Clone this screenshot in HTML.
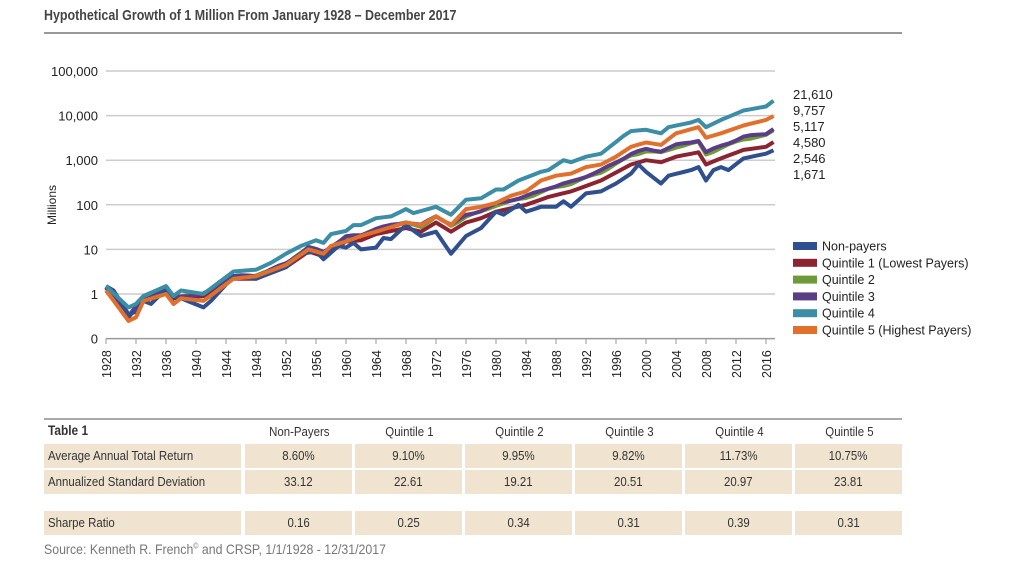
<!DOCTYPE html>
<html><head><meta charset="utf-8"><style>
body{margin:0;width:1024px;height:568px;background:#fff;font-family:"Liberation Sans",sans-serif;position:relative;overflow:hidden}
.t{position:absolute;white-space:nowrap}
.cell{position:absolute;height:24px;line-height:24px;font-size:13px;color:#333;text-align:center;background:#f0e4d0}
.n{display:inline-block;transform:scaleX(0.88)}
.nl{display:inline-block;transform:scaleX(0.88);transform-origin:left center}
</style></head><body>
<div class="t" style="left:44px;top:7px;font-size:15px;font-weight:bold;color:#444;transform:scaleX(0.83);transform-origin:left center">Hypothetical Growth of 1 Million From January 1928 – December 2017</div>
<div style="position:absolute;left:44px;top:32px;width:858px;height:2px;background:#999"></div>
<svg id="c" width="1024" height="410" style="position:absolute;left:0;top:0" font-family="Liberation Sans, sans-serif"></svg>
<div style="position:absolute;left:44px;top:418px;width:858px;height:2px;background:#aaa"></div>
<div id="tb"></div>
<div class="t" style="left:44px;top:541px;font-size:14px;color:#777;transform:scaleX(0.88);transform-origin:left center">Source: Kenneth R. French<sup style="font-size:8px">©</sup> and CRSP, 1/1/1928 - 12/31/2017</div>
<script>
const svg=document.getElementById('c');let h='';
const X=y=>106+(y-1928)*7.5, Y=v=>294-44.6*Math.log10(v);
const grid=[[100000,'100,000'],[10000,'10,000'],[1000,'1,000'],[100,'100'],[10,'10'],[1,'1'],[0.1,'0']];
grid.forEach(([v,l])=>{const y=Y(v);h+=`<line x1="106" x2="775" y1="${y}" y2="${y}" stroke="${v==0.1?'#999':'#ccc'}" stroke-width="1.5"/><text x="98" y="${y+5}" text-anchor="end" font-size="13" fill="#222">${l}</text>`});
h+=`<text transform="translate(56,205) rotate(-90)" text-anchor="middle" font-size="12" fill="#222">Millions</text>`;
for(let y=1928;y<=2016;y+=4){const x=X(y);h+=`<line x1="${x}" x2="${x}" y1="339" y2="344" stroke="#999"/><text transform="translate(${x+5},378) rotate(-90)" font-size="12.5" fill="#222">${y}</text>`}
function interp(p){const ks=Object.keys(p).map(Number).sort((a,b)=>a-b);const out=[];for(let y=1928;y<=2017;y++){let i=0;while(i<ks.length-1&&ks[i+1]<y)i++;const a=ks[i],b=ks[Math.min(i+1,ks.length-1)];let v;if(y<=a)v=p[a];else{const t=(y-a)/(b-a);v=Math.pow(10,Math.log10(p[a])*(1-t)+Math.log10(p[b])*t)}out.push(v)}return out}
const np=interp({1928:1.5,1929:1.2,1931:0.35,1932:0.4,1933:0.7,1934:0.6,1936:1.3,1937:0.6,1938:0.8,1941:0.5,1942:0.7,1945:2.5,1948:2.2,1952:4,1954:8,1956:9,1957:6,1959:12,1960:11,1961:14,1962:10,1964:11,1965:18,1966:17,1968:35,1970:20,1972:25,1974:8,1976:20,1978:30,1980:70,1981:60,1983:100,1984:70,1986:90,1988:90,1989:120,1990:90,1992:180,1994:200,1996:300,1998:500,1999:800,2000:550,2002:300,2003:450,2006:600,2007:700,2008:350,2009:600,2010:700,2011:600,2013:1100,2016:1400,2017:1671});
const q4=interp({1928:1.5,1931:0.5,1932:0.6,1933:0.9,1936:1.5,1937:0.9,1938:1.2,1941:1.0,1945:3.2,1948:3.5,1950:5,1952:8,1954:12,1956:16,1957:14,1958:22,1960:26,1961:35,1962:35,1964:50,1966:55,1968:80,1969:65,1972:90,1974:60,1976:130,1978:140,1980:220,1981:220,1983:350,1986:550,1987:600,1989:1000,1990:900,1992:1200,1994:1400,1997:3500,1998:4500,2000:4800,2002:4000,2003:5500,2006:7000,2007:8000,2008:5500,2010:8000,2013:13000,2016:16000,2017:21610});
const q5=interp({1928:1.2,1931:0.25,1932:0.3,1933:0.7,1936:1.0,1937:0.6,1938:0.8,1941:0.7,1945:2.2,1948:2.5,1952:4.5,1955:10,1957:8,1958:12,1960:15,1962:20,1964:25,1968:40,1970:35,1972:55,1974:35,1976:80,1978:90,1980:110,1982:160,1984:200,1986:350,1988:450,1990:500,1992:700,1994:800,1996:1200,1998:2000,2000:2500,2002:2200,2004:4000,2007:5500,2008:3200,2010:4000,2013:6000,2016:8000,2017:9757});
const q1=interp({1928:1.4,1931:0.3,1932:0.5,1933:0.7,1936:1.2,1937:0.8,1941:0.9,1945:2.2,1948:2.2,1952:4,1955:9,1957:7,1960:15,1962:16,1964:22,1968:30,1970:25,1972:40,1974:25,1976:40,1978:50,1980:70,1984:100,1987:150,1990:200,1994:350,1998:800,2000:1000,2002:900,2004:1200,2007:1500,2008:800,2010:1100,2013:1700,2016:2000,2017:2546});
const sc=(s,f,j)=>s.map((v,i)=>v*Math.pow(f,i/89)*(1+j*Math.sin(i*1.3)));
const q2=sc(q1,4580/2546,0.04), q3=sc(q1,5117/2546,-0.04);
const ser=[[q2,'#6e9a3a'],[q1,'#8b2331'],[q3,'#5a3d85'],[np,'#2f4f8f'],[q5,'#e0702c'],[q4,'#3b8ea5']];
ser.forEach(([s,c])=>{h+=`<polyline fill="none" stroke="${c}" stroke-width="4" stroke-linejoin="round" points="${s.map((v,i)=>X(1928+i)+','+Math.min(Y(Math.max(v,0.1)),339).toFixed(1)).join(' ')}"/>`});
['21,610','9,757','5,117','4,580','2,546','1,671'].forEach((l,i)=>h+=`<text x="793" y="${99+i*16}" font-size="13" fill="#222">${l}</text>`);
[['Non-payers','#2f4f8f'],['Quintile 1 (Lowest Payers)','#8b2331'],['Quintile 2','#6e9a3a'],['Quintile 3','#5a3d85'],['Quintile 4','#3b8ea5'],['Quintile 5 (Highest Payers)','#e0702c']].forEach(([l,c],i)=>{const y=246+i*16.8;h+=`<rect x="793" y="${y-4}" width="24" height="8" fill="${c}"/><text x="822" y="${y+4.5}" font-size="12.5" fill="#222">${l}</text>`});
svg.innerHTML=h;
const cols=[245,355,465,575,685,795],hd=['Non-Payers','Quintile 1','Quintile 2','Quintile 3','Quintile 4','Quintile 5'];
const rows=[['Average Annual Total Return',['8.60%','9.10%','9.95%','9.82%','11.73%','10.75%'],444],['Annualized Standard Deviation',['33.12','22.61','19.21','20.51','20.97','23.81'],470],['Sharpe Ratio',['0.16','0.25','0.34','0.31','0.39','0.31'],511]];
let t=`<div class="t" style="left:48px;top:423px;font-size:13.5px;font-weight:bold;color:#333"><span class="nl">Table 1</span></div>`;
hd.forEach((s,i)=>t+=`<div class="cell" style="left:${cols[i]}px;top:420px;width:108px;background:none"><span class="n">${s}</span></div>`);
rows.forEach(([l,v,y])=>{t+=`<div class="cell" style="left:44px;top:${y}px;width:197px;text-align:left;padding-left:4px;box-sizing:border-box"><span class="nl">${l}</span></div>`;v.forEach((s,i)=>t+=`<div class="cell" style="left:${cols[i]}px;top:${y}px;width:107px"><span class="n">${s}</span></div>`)});
document.getElementById('tb').innerHTML=t;
</script>
</body></html>
